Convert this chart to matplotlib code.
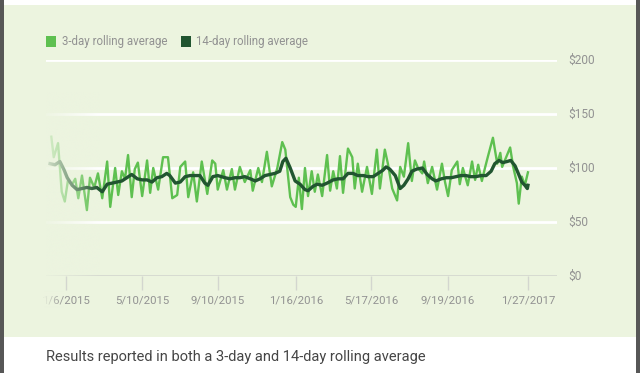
import numpy as np
import pandas as pd
import matplotlib
matplotlib.use("Agg")
import matplotlib.pyplot as plt
from matplotlib.patches import Rectangle

# ---------------- data ----------------
base_date = "2015-01-06"
# 14-day rolling average: days since base date, dollars
d14_days = [-26, -18, -10, -3, 2, 10, 18, 26, 34, 42, 50, 59, 67, 75, 83, 91, 99, 107, 116, 124,
            132, 140, 148, 156, 164, 169, 178, 186, 194, 202, 210, 218, 226, 231, 239, 247, 259, 267, 275, 283,
            291, 300, 308, 316, 324, 332, 340, 348, 353, 358, 365, 373, 381, 389, 394, 402, 409, 417, 425, 435,
            443, 451, 459, 467, 475, 484, 492, 500, 508, 516, 521, 527, 536, 544, 550, 557, 563, 571, 580, 588,
            596, 602, 611, 619, 627, 635, 643, 651, 659, 667, 676, 684, 692, 698, 705, 711, 718, 724, 731, 737,
            742, 747, 751, 752]
d14_vals = [104, 103, 106, 98, 91, 84, 80, 81, 82, 81, 82, 78, 85, 86, 87, 88, 91, 94, 90, 89,
            89, 87, 91, 92, 95, 93, 86, 87, 92, 93, 93, 93, 86, 84, 92, 93, 91, 90, 91, 91,
            92, 90, 88, 90, 93, 94, 95, 97, 106, 109, 100, 88, 85, 80, 79, 83, 85, 84, 86, 89,
            90, 90, 95, 95, 93, 93, 92, 92, 95, 98, 101, 99, 93, 81, 84, 90, 97, 99, 100, 94,
            90, 88, 90, 91, 91, 92, 93, 93, 92, 92, 93, 93, 97, 104, 107, 105, 106, 107, 102, 94,
            87, 84, 81, 84]
# 3-day rolling average
d3_days = [-24, -20, -13, -7, -2, 3, 10, 15, 20, 26, 34, 39, 46, 52, 59, 67, 72, 80, 85, 91,
           96, 101, 107, 112, 117, 124, 132, 137, 142, 150, 158, 166, 173, 181, 186, 194, 199, 207, 213, 221,
           230, 238, 243, 247, 256, 262, 270, 275, 283, 291, 300, 304, 313, 319, 327, 335, 344, 352, 357, 365,
           370, 374, 379, 384, 389, 394, 400, 405, 410, 417, 425, 430, 435, 441, 446, 451, 459, 466, 470, 475,
           482, 490, 498, 506, 511, 519, 524, 531, 539, 544, 550, 557, 563, 568, 573, 580, 583, 589, 596, 604,
           612, 617, 622, 628, 637, 641, 646, 654, 661, 666, 671, 677, 682, 687, 695, 702, 707, 710, 718, 723,
           728, 734, 737, 742, 747, 752]
d3_vals = [129, 110, 123, 78, 69, 88, 85, 90, 72, 93, 61, 91, 82, 95, 72, 106, 64, 100, 75, 97,
           90, 112, 73, 99, 105, 74, 107, 77, 100, 80, 110, 110, 72, 75, 101, 106, 73, 96, 69, 106,
           76, 107, 104, 80, 98, 80, 99, 80, 101, 87, 98, 79, 100, 87, 115, 83, 100, 124, 117, 73,
           66, 64, 91, 62, 100, 74, 97, 78, 94, 74, 112, 79, 97, 81, 111, 77, 118, 110, 81, 104,
           78, 101, 76, 117, 81, 117, 104, 81, 70, 101, 92, 123, 88, 107, 100, 95, 106, 86, 101, 80,
           104, 87, 74, 98, 106, 85, 100, 84, 106, 89, 103, 88, 100, 111, 128, 104, 114, 101, 112, 119,
           101, 86, 67, 92, 84, 96]
tick_dates = ["2015-01-06", "2015-05-10", "2015-09-10", "2016-01-16", "2016-05-17", "2016-09-19", "2017-01-27"]
tick_labels = ["1/6/2015", "5/10/2015", "9/10/2015", "1/16/2016", "5/17/2016", "9/19/2016", "1/27/2017"]
y_ticks = [0, 50, 100, 150, 200]
y_labels = ["$0", "$50", "$100", "$150", "$200"]
legend_labels = ["3-day rolling average", "14-day rolling average"]
caption = "Results reported in both a 3-day and 14-day rolling average"

# ---------------- style ----------------
W, H = 640, 373
PANEL = "#ecf4df"
C3 = "#5ec050"
C14 = "#215530"
GRAY = "#929292"
FONT = "Roboto"
plt.rcParams["font.family"] = [FONT, "DejaVu Sans"]

fig = plt.figure(figsize=(W / 100, H / 100), dpi=100, facecolor="white")


def fx(x):
    return x / W


def fy(y):
    return 1 - y / H


def rect(x0, y0, x1, y1, color, z=-10):
    fig.patches.append(Rectangle((fx(x0), fy(y1)), fx(x1 - x0), (y1 - y0) / H,
                                 transform=fig.transFigure, facecolor=color,
                                 edgecolor="none", zorder=z))


rect(4, 5, 637, 337, PANEL)
rect(0, 0, 4, H, "#575757")
rect(636, 0, W, H, "#575757")

# axes: x 46..557 px, y 60 ($200) .. 276 ($0)
ax_l, ax_r, ax_t, ax_b = 46, 557, 60, 276
ax = fig.add_axes([fx(ax_l), fy(ax_b), fx(ax_r - ax_l), (ax_b - ax_t) / H])
ax.set_facecolor("none")
ax.set_zorder(5)

t0 = pd.Timestamp(base_date)
x3 = t0 + pd.to_timedelta(d3_days, unit="D")
x14 = t0 + pd.to_timedelta(d14_days, unit="D")
ax.plot(x3, d3_vals, color=C3, lw=1.7, solid_joinstyle="round", zorder=3)
ax.plot(x14, d14_vals, color=C14, lw=2.4, solid_joinstyle="round", zorder=4)

# x limits from pixel geometry: 1/6/2015 at x=66, 0.6143 px/day
px_per_day = 0.6143
left_days = (ax_l - 66) / px_per_day
right_days = (ax_r - 66) / px_per_day
xlo = t0 + pd.Timedelta(days=left_days)
xhi = t0 + pd.Timedelta(days=right_days)

for v in y_ticks[1:]:
    ax.axhline(v, color="white", lw=2, zorder=1)
ax.axhline(0, color="#d3d6cf", lw=1.2, zorder=1)

for s in ax.spines.values():
    s.set_visible(False)
ax.set_yticks([])
tdates = pd.to_datetime(tick_dates)
ax.set_xticks(tdates)
ax.set_xticklabels(tick_labels, fontsize=8.2, color=GRAY)
ax.tick_params(axis="x", length=10, width=1, color="#d3d6cf", pad=4)

for v, lab in zip(y_ticks, y_labels):
    ax.text(1 + (568 - ax_r) / (ax_r - ax_l), v, lab, transform=ax.get_yaxis_transform(),
            ha="left", va="center", fontsize=8.6, color=GRAY)

# fade overlay on the left of the plotting area
n = 200
alpha = np.linspace(0.88, 0.0, n)
rgba = np.zeros((1, n, 4))
rgba[..., :3] = matplotlib.colors.to_rgb(PANEL)
rgba[..., 3] = alpha
fade_w = (100 - ax_l) / (ax_r - ax_l)
ax.imshow(rgba, extent=(0, fade_w, 0, 0.85), transform=ax.transAxes, aspect="auto",
          zorder=10, interpolation="bilinear", clip_on=False)
ax.set_xlim(xlo, xhi)
ax.set_ylim(0, 200)

# short fade over first tick label
n2 = 100
a2 = np.linspace(1.0, 0.0, n2) ** 1.2
rgba2 = np.zeros((1, n2, 4))
rgba2[..., :3] = matplotlib.colors.to_rgb(PANEL)
rgba2[..., 3] = a2
fa = fig.add_axes([fx(44), fy(309), fx(64 - 44), (309 - 290) / H])
fa.imshow(rgba2, aspect="auto", interpolation="bilinear")
fa.axis("off")
fa.set_zorder(20)

# legend
fig.patches.append(Rectangle((fx(46), fy(47)), fx(10), 11 / H, transform=fig.transFigure,
                             facecolor=C3, edgecolor="none", zorder=5))
fig.text(fx(62), fy(42), legend_labels[0], fontsize=8.3, color=GRAY, ha="left", va="center")
fig.patches.append(Rectangle((fx(181), fy(47)), fx(10), 11 / H, transform=fig.transFigure,
                             facecolor=C14, edgecolor="none", zorder=5))
fig.text(fx(196), fy(42), legend_labels[1], fontsize=8.3, color=GRAY, ha="left", va="center")

fig.text(fx(46), fy(357), caption, fontsize=10.5, color="#454545", ha="left", va="center")

fig.savefig("out.png", dpi=100, facecolor="white")
